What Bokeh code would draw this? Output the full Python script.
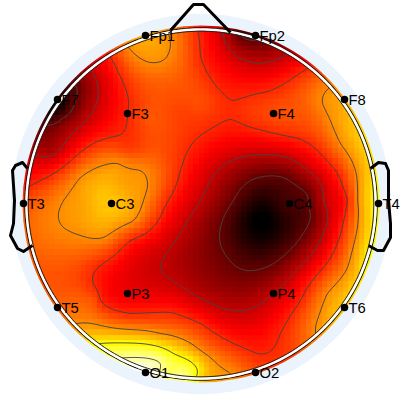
import numpy as np
from bokeh.plotting import figure
from bokeh.embed import file_html
from bokeh.resources import INLINE
from bokeh.core.properties import value
from bokeh.models import LinearColorMapper

names = ["Fp1","Fp2","F7","F3","F4","F8","T3","C3","C4","T4","T5","P3","P4","T6","O1","O2"]
elec_x = [145,255,57,127,273,344,23,111,289,378,57,127,273,344,145,255]
elec_y = [35,35,99,113,113,99,203,203,203,203,307,293,293,307,372,372]

levels = [0.15,0.29,0.43,0.58,0.74,0.90]

# iso-lines: level -> (x, y) samples
iso_1 = [(233,200),(220,227),(227,257),(247,270),(273,263),(300,237),(310,217),(307,195),(283,177),(250,180),
           (45,125),(62,118),(75,100),(75,85)]
iso_2 = [(200,200),(217,170),(240,157),(277,155),(307,170),(323,200),(323,233),(293,273),(273,293),(243,310),(220,307),
           (200,298),(163,273),(173,243),
           (35,155),(70,135),(95,105),(97,85),(90,70),
           (222,32),(230,50),(245,60),(265,62),(285,55)]
iso_3 = [(200,135),(230,119),(283,135),(317,150),(337,173),(347,200),(338,240),(300,300),(280,333),(257,353),(233,343),(200,323),
           (170,312),(130,313),(100,300),(92,280),(100,265),(130,240),(165,205),(180,170),
           (27,187),(67,163),(110,137),(127,117),(128,100),(110,57),
           (197,30),(200,55),(215,85),(232,100),(270,90),(307,68)]
iso_4 = [(128,47),(140,58),(150,62),(165,58),(170,43),
           (63,200),(80,177),(117,163),(140,170),(147,187),(143,200),(133,220),(103,237),(80,235),(63,227),(58,213),
           (328,88),(322,103),(340,143),(357,187),(357,200),(347,267),(327,293),(315,327),
           (77,323),(117,328),(160,333),(200,350),(230,373)]
iso_5 = [(100,343),(140,343),(173,353),(197,370)]
iso_6 = [(117,358),(137,357),(160,363),(180,377)]

# other values
extra_x = [265,255,57,240,107,140,30,55,25,372,365,375,340,300,255,200,150,200,150,280,127,50,95,370,352,170,345,60,285,60,35,
           85,125,160,180,130,250,310,320]
extra_y = [215,220,110,35,203,372,203,305,240,203,260,170,105,360,375,380,40,100,120,115,293,150,300,130,310,375,60,70,205,330,270,
           205,185,80,110,150,112,112,125]
extra_v = [0.0,0.0,0.03,0.15,0.67,1.0,0.5,0.52,0.52,0.72,0.72,0.72,0.62,0.5,0.5,0.68,0.62,0.49,0.5,0.49,0.36,0.25,0.48,0.72,0.7,0.82,0.46,0.25,0.1,0.6,0.5,
           0.62,0.61,0.52,0.47,0.47,0.46,0.52,0.53]

px, py, pv = [], [], []
for lev, pts in zip(levels, [iso_1,iso_2,iso_3,iso_4,iso_5,iso_6]):
    for a, b in pts:
        px.append(a); py.append(b); pv.append(lev)
px += extra_x; py += extra_y; pv += extra_v
px = np.array(px, float); py = np.array(py, float); pv = np.array(pv, float)

CX, CY, R = 200.5, 203.5, 175.0
def kern(r):
    out = np.zeros_like(r)
    m = r > 0
    out[m] = r[m]**2*(np.log(r[m])-1)
    return out
U = (px-CX)/R; V = (py-CY)/R
n = len(U)
K = kern(np.hypot(U[:,None]-U[None,:], V[:,None]-V[None,:])) + 2e-4*np.eye(n)
P = np.c_[np.ones(n), U, V]
A = np.block([[K,P],[P.T,np.zeros((3,3))]])
w = np.linalg.solve(A, np.r_[pv, np.zeros(3)])
def field(gx, gy):
    gu = (gx.ravel()-CX)/R; gv = (gy.ravel()-CY)/R
    d = kern(np.hypot(gu[:,None]-U[None,:], gv[:,None]-V[None,:]))
    z = d@w[:n] + w[n] + w[n+1]*gu + w[n+2]*gv
    return z.reshape(gx.shape)

# colormap: black - red - yellow - white
pal = []
for i in range(256):
    t = i/255
    r = min(1, t/0.375); g = min(1, max(0, (t-0.375)/0.375)); b = max(0, (t-0.75)/0.25)
    pal.append("#%02x%02x%02x" % (int(r*255), int(g*255), int(b*255)))

p = figure(width=400, height=400, x_range=(0,400), y_range=(0,400), toolbar_location=None,
           output_backend="svg", min_border=0, outline_line_color=None)
p.axis.visible = False
p.grid.visible = False
p.background_fill_color = "white"
FY = lambda a: 400 - np.asarray(a, float)

BLUE = "#ebf3fc"
p.circle(x=[CX], y=FY([CY]), radius=190, fill_color=BLUE, line_color=None)

cell = 5.35
nc = 67
cx_ = CX - cell*nc/2 + cell*(np.arange(nc)+0.5)
cy_ = CY - cell*nc/2 + cell*(np.arange(nc)+0.5)
gx, gy = np.meshgrid(cx_, cy_)
img = np.clip(field(gx, gy), 0, 1)
img[np.hypot(gx-CX, gy-CY) > 184] = np.nan
mapper = LinearColorMapper(palette=pal, low=0, high=1, nan_color="rgba(0,0,0,0)")
p.image(image=[img[::-1]], x=CX-cell*nc/2, y=400-(CY+cell*nc/2), dw=cell*nc, dh=cell*nc, color_mapper=mapper)
p.annulus(x=[CX], y=FY([CY]), inner_radius=178.5, outer_radius=190, fill_color=BLUE, line_color=None)

lx = np.arange(CX-176, CX+176.1, 2.0)
ly = np.arange(CY-176, CY+176.1, 2.0)
Lx, Ly = np.meshgrid(lx, ly)
Z = field(Lx, Ly)
Z = np.ma.masked_where(np.hypot(Lx-CX, Ly-CY) > 174, Z)
p.contour(lx, 400-ly[::-1], Z[::-1], levels, fill_color=None, line_color="#444444", line_width=1, line_alpha=0.9)

th = np.linspace(0, 2*np.pi, 361)
for r, c, w_ in [(176.2,"#111111",1.1),(174.5,"white",2.6),(172.8,"#222222",1.0)]:
    p.line(CX+r*np.cos(th), 400-(CY+r*np.sin(th)), line_color=c, line_width=w_)

ear_l_x = [27,22,15,12,14,13,10,17,23,32]
ear_l_y = [168,162,165,170,200,223,235,248,251,245]
ear_r_x = [370,378,385,388,388,390,390,383,377,368]
ear_r_y = [168,162,163,170,200,223,237,250,250,245]
nose_x = [170,193,203,230]
nose_y = [30,4,4,32]
for xs, ys in [(ear_l_x,ear_l_y),(ear_r_x,ear_r_y),(nose_x,nose_y)]:
    p.line(xs, FY(ys), line_color="black", line_width=3, line_join="round")

p.scatter(elec_x, FY(elec_y), size=7.5, fill_color="black", line_color=None)
p.text(np.array(elec_x)+4, FY(elec_y), text=names, text_font=value("Liberation Sans"), text_font_size="14.8px",
       text_color="black", text_baseline="middle", text_align="left")

open("out.html","w").write(file_html(p, INLINE))
